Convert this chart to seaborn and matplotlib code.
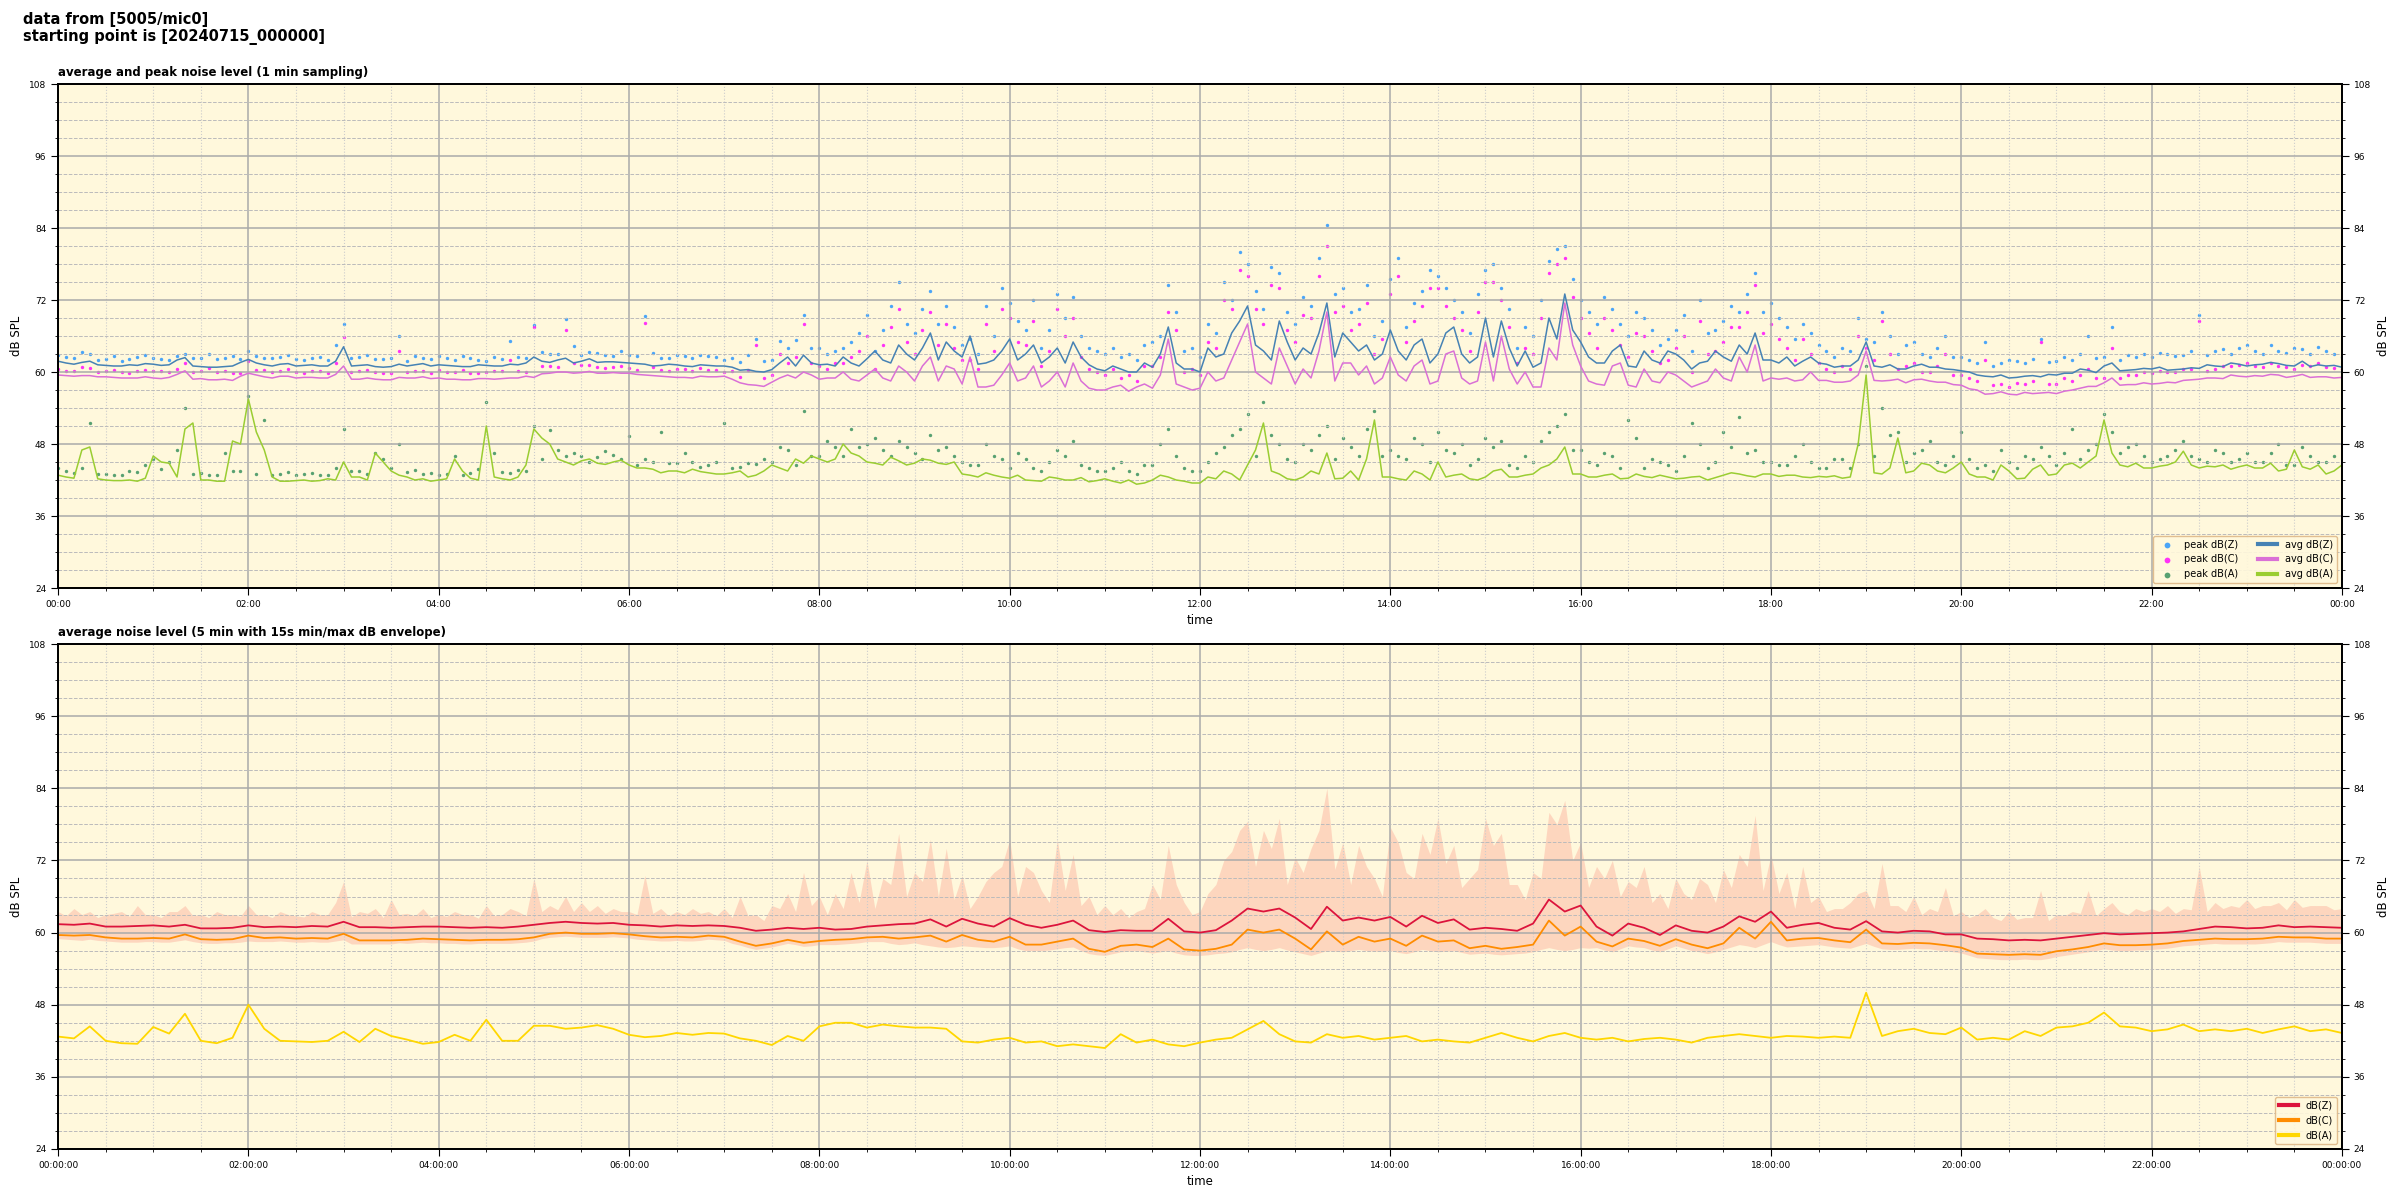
import matplotlib
matplotlib.use('Agg')
import matplotlib.pyplot as plt
import matplotlib.dates as mdates
from matplotlib.ticker import MultipleLocator
import pandas as pd
import seaborn as sns

# time axes: readings on the 10 min marks, plus the in-between 5 min marks
times = pd.date_range('2024-07-15 00:00', '2024-07-16 00:00', freq='10min')
times5 = pd.date_range('2024-07-15 00:00', '2024-07-16 00:00', freq='5min')

# --- top panel: 1 min averages and peaks, read at :00, :10, :20 ... ---
avg_z = [
    61.8, 61.3, 61.8, 61.1, 61.0, 61.1,
    61.3, 61.2, 62.4, 60.9, 60.8, 61.0,
    62.1, 61.2, 61.3, 61.0, 61.2, 61.0,
    64.2, 61.1, 60.9, 60.9, 61.0, 61.4,
    61.2, 61.0, 60.9, 61.1, 61.0, 61.2,
    62.5, 61.6, 62.3, 61.8, 61.6, 61.7,
    61.5, 61.3, 61.1, 61.2, 60.9, 61.1,
    61.0, 60.3, 60.1, 60.4, 62.5, 62.8,
    61.2, 61.0, 61.5, 62.2, 62.0, 64.5,
    62.0, 66.5, 65.0, 62.5, 61.3, 62.0,
    65.5, 63.0, 61.5, 64.0, 65.0, 61.2,
    60.2, 60.5, 60.0, 60.8, 67.5, 60.5,
    60.0, 62.5, 66.5, 71.0, 63.5, 68.5,
    62.0, 63.0, 71.5, 66.5, 63.5, 62.0,
    67.0, 62.0, 65.5, 63.0, 67.5, 61.5,
    69.0, 68.5, 61.0, 60.8, 69.0, 73.0,
    65.0, 61.5, 63.5, 61.0, 63.5, 61.5,
    63.0, 60.5, 61.8, 62.5, 64.5, 66.5,
    62.0, 62.5, 61.8, 61.5, 60.8, 61.0,
    65.0, 60.8, 60.5, 61.0, 60.8, 60.5,
    60.2, 59.5, 59.2, 59.0, 59.3, 59.2,
    59.5, 59.8, 60.3, 61.0, 60.2, 60.4,
    60.5, 60.3, 60.5, 60.6, 61.0, 61.5,
    61.0, 61.3, 61.4, 61.0, 60.9, 61.0,
    60.8,
]
avg_c = [
    59.5, 59.3, 59.4, 59.2, 59.0, 59.0,
    59.0, 59.1, 60.2, 58.9, 58.7, 58.6,
    59.8, 59.2, 59.3, 59.0, 59.1, 59.0,
    61.0, 58.8, 58.8, 58.7, 59.0, 59.2,
    59.0, 58.8, 58.7, 58.9, 58.9, 59.0,
    59.1, 59.8, 60.0, 59.9, 59.8, 59.9,
    59.8, 59.5, 59.3, 59.1, 59.0, 59.2,
    59.3, 58.2, 57.8, 58.3, 59.5, 60.0,
    58.8, 59.0, 58.8, 59.5, 59.0, 61.0,
    58.5, 62.5, 61.0, 58.0, 57.5, 57.8,
    61.5, 59.0, 57.5, 60.0, 61.5, 57.3,
    57.0, 57.8, 57.5, 57.3, 65.5, 57.5,
    57.3, 58.5, 62.0, 68.0, 59.0, 64.0,
    58.0, 59.0, 70.0, 61.5, 59.5, 58.0,
    62.5, 58.5, 62.0, 58.5, 63.5, 58.0,
    65.0, 66.0, 58.0, 57.5, 64.0, 71.5,
    61.0, 58.0, 61.0, 57.8, 60.5, 58.2,
    59.5, 57.5, 58.5, 59.0, 62.5, 64.5,
    59.0, 59.0, 58.7, 58.6, 58.3, 58.5,
    63.5, 58.5, 58.8, 58.7, 58.5, 58.3,
    57.8, 57.0, 56.4, 56.3, 56.6, 56.5,
    56.4, 57.0, 57.6, 58.2, 57.8, 57.9,
    58.0, 58.3, 58.6, 58.8, 59.0, 59.5,
    59.2, 59.3, 59.5, 59.3, 59.1, 59.2,
    59.1,
]
avg_a = [
    42.8, 42.3, 47.5, 42.0, 41.9, 41.8,
    46.0, 44.8, 50.5, 42.0, 41.8, 48.5,
    55.5, 47.0, 41.8, 41.9, 41.8, 42.2,
    45.0, 42.5, 46.5, 43.5, 42.5, 42.2,
    42.0, 45.5, 42.3, 51.0, 42.2, 42.5,
    50.5, 48.0, 45.0, 45.2, 44.8, 45.0,
    44.5, 44.0, 43.2, 43.5, 43.8, 43.2,
    43.0, 43.5, 42.8, 44.5, 43.5, 44.8,
    45.5, 45.5, 46.5, 45.0, 44.5, 45.2,
    44.8, 45.3, 44.6, 43.0, 42.5, 42.8,
    42.3, 42.0, 41.8, 42.3, 42.0, 41.7,
    42.2, 41.5, 41.3, 42.0, 42.5, 41.8,
    41.5, 42.2, 43.0, 44.5, 51.5, 43.0,
    42.0, 43.5, 46.5, 42.3, 42.0, 52.0,
    42.5, 42.0, 43.0, 45.0, 42.8, 42.2,
    42.5, 43.8, 42.5, 43.0, 44.5, 47.5,
    43.0, 42.5, 43.0, 42.3, 42.6, 42.8,
    42.2, 42.5, 42.0, 42.8, 43.0, 42.5,
    43.0, 42.8, 42.5, 42.6, 42.7, 42.5,
    59.5, 43.0, 49.0, 43.5, 44.5, 43.2,
    45.0, 42.5, 42.0, 43.5, 42.3, 44.5,
    43.0, 44.8, 45.0, 52.0, 44.5, 44.8,
    44.0, 44.5, 46.8, 44.0, 44.2, 43.8,
    44.5, 44.0, 43.5, 47.0, 43.8, 43.0,
    44.5,
]
peak_z = [
    62.8, 62.3, 63.0, 62.2, 61.8, 62.5,
    62.4, 62.0, 63.0, 62.3, 62.1, 62.6,
    63.5, 62.4, 62.5, 62.1, 62.3, 62.0,
    68.0, 62.5, 62.2, 62.4, 61.9, 62.3,
    62.6, 62.0, 62.4, 61.8, 62.2, 62.5,
    67.8, 63.0, 68.8, 62.8, 63.2, 62.6,
    62.9, 69.3, 62.4, 62.8, 62.3, 62.6,
    62.0, 61.7, 65.5, 62.0, 64.0, 69.5,
    64.0, 63.5, 65.0, 69.5, 67.0, 75.0,
    66.5, 73.5, 71.0, 64.5, 63.0, 66.0,
    71.5, 67.0, 64.0, 73.0, 72.5, 64.0,
    63.0, 62.5, 62.0, 65.0, 74.5, 63.5,
    62.5, 66.5, 72.0, 78.0, 70.5, 76.5,
    68.0, 71.0, 84.5, 74.0, 70.5, 66.0,
    75.5, 67.5, 73.5, 76.0, 72.0, 66.5,
    77.0, 74.0, 64.0, 66.0, 78.5, 81.0,
    72.0, 68.0, 70.5, 66.0, 69.0, 64.5,
    67.0, 63.5, 66.5, 68.5, 70.0, 76.5,
    71.5, 67.5, 68.0, 64.5, 62.5, 63.5,
    65.5, 70.0, 63.0, 65.0, 62.5, 66.0,
    62.5, 61.5, 61.0, 62.0, 61.5, 65.5,
    61.8, 62.0, 66.0, 62.5, 62.0, 62.5,
    62.5, 63.0, 62.8, 69.5, 63.5, 63.0,
    64.5, 63.0, 63.5, 64.0, 63.0, 63.5,
    62.5,
]
peak_c = [
    60.5, 60.2, 60.6, 60.1, 60.0, 60.1,
    60.2, 60.0, 61.5, 60.2, 60.0, 59.9,
    61.8, 60.3, 60.2, 60.0, 60.1, 59.9,
    65.8, 60.2, 60.0, 59.8, 60.0, 60.1,
    60.3, 60.0, 59.9, 60.0, 60.1, 60.2,
    67.5, 61.0, 67.0, 61.2, 60.9, 60.8,
    60.7, 68.2, 60.3, 60.5, 60.2, 60.4,
    60.0, 59.2, 64.5, 59.5, 61.5, 68.0,
    61.0, 61.5, 62.5, 66.0, 64.5, 70.5,
    63.0, 70.0, 68.0, 62.0, 60.5, 63.5,
    69.0, 64.5, 61.0, 70.5, 69.0, 60.5,
    59.5, 59.0, 58.5, 61.0, 70.0, 60.0,
    59.5, 64.0, 70.5, 76.0, 68.0, 74.0,
    65.0, 69.0, 81.0, 71.0, 68.0, 63.0,
    73.0, 65.0, 71.0, 74.0, 69.0, 63.5,
    75.0, 72.0, 61.5, 63.0, 76.5, 79.0,
    69.0, 64.0, 67.0, 62.5, 66.0, 61.5,
    64.0, 60.0, 63.0, 65.0, 67.5, 74.5,
    68.0, 64.0, 65.5, 61.5, 60.0, 60.5,
    64.0, 68.5, 60.5, 61.5, 60.0, 63.0,
    59.5, 58.5, 57.8, 57.5, 58.0, 65.0,
    58.0, 58.5, 60.5, 59.0, 59.0, 59.5,
    59.8, 60.0, 60.5, 68.5, 60.5, 61.0,
    61.5, 60.8, 61.0, 60.5, 61.0, 60.8,
    60.5,
]
peak_a = [
    44.0, 43.2, 51.5, 43.0, 42.8, 43.3,
    45.5, 45.0, 54.0, 43.2, 42.9, 43.5,
    56.0, 52.0, 43.0, 42.8, 43.1, 42.9,
    50.5, 43.5, 46.5, 44.0, 43.3, 43.0,
    42.9, 46.0, 43.2, 55.0, 43.4, 43.6,
    51.0, 50.3, 46.0, 46.0, 45.8, 46.2,
    49.3, 45.5, 50.0, 44.8, 45.0, 44.5,
    51.5, 44.2, 44.6, 45.0, 47.0, 53.5,
    46.0, 47.5, 50.5, 48.0, 47.0, 48.5,
    46.5, 49.5, 47.5, 45.0, 44.5, 46.0,
    44.0, 45.5, 43.5, 47.0, 48.5, 44.0,
    43.5, 45.0, 43.0, 44.5, 50.5, 44.0,
    43.5, 46.5, 49.5, 53.0, 55.0, 48.0,
    45.0, 47.0, 51.0, 49.0, 46.0, 53.5,
    47.0, 45.5, 48.0, 50.0, 46.5, 44.5,
    49.0, 48.5, 44.0, 45.0, 50.0, 53.0,
    47.0, 44.5, 46.0, 52.0, 44.0, 45.0,
    43.5, 51.5, 44.0, 50.0, 52.5, 47.0,
    45.0, 44.5, 48.0, 44.0, 45.5, 44.0,
    61.0, 54.0, 50.0, 46.5, 48.5, 44.5,
    50.0, 44.0, 43.5, 45.0, 46.0, 47.5,
    44.5, 50.5, 47.0, 53.0, 46.5, 48.0,
    45.0, 46.0, 48.5, 45.5, 47.0, 45.0,
    46.5, 45.0, 48.0, 44.5, 46.0, 45.0,
    44.5,
]

# --- same top series read at :05, :15, :25 ... (one row per hour) ---
avg_z_mid = [
    61.5, 61.6, 61.2, 61.0, 61.2, 61.4,
    61.1, 62.0, 61.0, 60.8, 60.9, 61.6,
    61.5, 61.0, 61.4, 61.1, 61.0, 61.8,
    61.0, 61.2, 60.8, 61.3, 61.2, 61.0,
    61.1, 60.9, 61.2, 61.0, 61.3, 61.5,
    61.8, 62.0, 61.5, 62.2, 61.7, 61.6,
    61.4, 61.0, 61.3, 61.0, 61.2, 61.0,
    60.8, 60.4, 60.0, 61.5, 61.0, 61.5,
    61.3, 62.5, 61.0, 63.5, 61.5, 63.0,
    64.0, 62.0, 63.5, 66.0, 61.5, 63.5,
    62.0, 64.5, 62.5, 61.5, 62.5, 60.5,
    61.0, 60.0, 61.5, 63.0, 61.5, 60.5,
    64.0, 63.0, 68.5, 64.5, 62.0, 65.0,
    64.0, 66.5, 62.5, 65.0, 64.5, 63.0,
    63.5, 64.5, 61.5, 66.5, 63.0, 62.5,
    62.5, 64.0, 63.5, 61.5, 65.5, 67.0,
    62.5, 61.5, 64.5, 60.8, 62.0, 63.5,
    62.0, 61.5, 63.5, 61.8, 63.0, 62.0,
    61.5, 61.0, 62.5, 61.3, 61.0, 62.0,
    61.0, 61.2, 60.5, 61.3, 60.8, 60.4,
    60.0, 59.3, 59.5, 59.1, 59.4, 59.6,
    59.8, 60.5, 59.9, 61.5, 60.3, 60.6,
    60.8, 60.4, 60.7, 61.2, 60.9, 61.3,
    61.2, 61.6, 61.1, 61.8, 61.2, 61.1,
]
avg_c_mid = [
    59.4, 59.4, 59.2, 59.1, 59.0, 59.2,
    58.9, 59.6, 58.8, 58.7, 58.8, 59.3,
    59.5, 59.0, 59.3, 59.1, 59.0, 59.6,
    58.8, 59.0, 58.7, 59.1, 59.0, 58.9,
    58.8, 58.7, 58.9, 58.8, 59.0, 59.3,
    59.7, 60.0, 59.8, 60.1, 59.8, 59.8,
    59.6, 59.4, 59.2, 59.1, 59.3, 59.2,
    58.8, 57.9, 57.6, 59.0, 59.0, 59.5,
    59.0, 60.0, 58.5, 60.5, 58.5, 60.0,
    61.0, 58.5, 60.5, 62.5, 57.5, 59.5,
    58.5, 61.0, 58.5, 57.5, 58.5, 57.0,
    57.5, 56.8, 58.0, 59.5, 58.0, 57.0,
    60.0, 59.0, 65.0, 60.0, 58.0, 61.0,
    60.5, 63.5, 58.5, 61.5, 61.0, 59.0,
    59.5, 61.0, 58.0, 63.0, 59.0, 58.5,
    58.5, 60.5, 60.0, 57.5, 62.0, 64.5,
    58.5, 57.8, 61.5, 57.5, 58.5, 60.0,
    58.5, 58.0, 60.5, 58.5, 60.0, 58.5,
    58.8, 58.5, 60.0, 58.6, 58.3, 59.5,
    58.6, 58.6, 58.2, 58.8, 58.3, 57.9,
    57.2, 56.3, 56.7, 56.2, 56.4, 56.6,
    56.8, 57.3, 57.6, 59.0, 57.9, 58.2,
    58.1, 58.2, 58.7, 59.0, 58.9, 59.3,
    59.4, 59.6, 59.1, 59.6, 59.2, 59.0,
]
avg_a_mid = [
    42.5, 47.0, 42.2, 41.9, 42.0, 42.3,
    45.0, 42.5, 51.5, 42.0, 41.8, 48.0,
    50.0, 42.5, 41.8, 42.0, 41.9, 42.0,
    42.5, 42.0, 45.0, 42.8, 42.0, 41.8,
    42.2, 43.5, 42.0, 42.5, 42.0, 44.5,
    49.0, 45.5, 44.5, 45.5, 44.6, 45.3,
    44.0, 43.8, 43.5, 43.2, 43.4, 43.0,
    43.2, 42.5, 43.5, 44.0, 45.5, 46.0,
    45.0, 48.0, 46.0, 44.8, 45.8, 44.5,
    45.5, 44.8, 45.0, 42.8, 43.2, 42.5,
    42.8, 41.9, 42.5, 42.0, 42.4, 41.9,
    41.8, 42.0, 41.5, 42.8, 42.0, 41.5,
    42.5, 43.5, 42.0, 47.0, 43.5, 42.2,
    42.5, 43.0, 42.2, 43.5, 45.5, 42.5,
    42.2, 43.5, 42.0, 42.5, 43.0, 42.0,
    43.5, 42.5, 42.8, 44.0, 45.5, 43.0,
    42.5, 42.8, 42.2, 43.0, 42.4, 42.5,
    42.3, 42.6, 42.4, 43.2, 42.7, 43.0,
    42.6, 42.8, 42.4, 42.5, 42.3, 48.0,
    43.2, 44.0, 43.2, 44.8, 43.5, 44.0,
    43.0, 42.5, 44.5, 42.2, 43.8, 42.8,
    44.5, 44.0, 46.0, 46.5, 44.2, 44.0,
    44.3, 45.0, 44.5, 44.3, 44.5, 44.2,
    44.0, 44.8, 43.8, 44.2, 44.5, 43.5,
]
peak_z_mid = [
    62.5, 63.4, 62.0, 62.6, 62.2, 62.9,
    62.1, 62.7, 62.3, 63.0, 62.4, 62.2,
    62.6, 62.3, 62.8, 62.0, 62.5, 64.5,
    62.4, 62.9, 62.2, 66.0, 62.6, 62.1,
    62.3, 62.7, 62.0, 62.5, 65.2, 62.4,
    63.3, 63.0, 64.3, 63.4, 62.9, 63.5,
    62.6, 63.2, 62.4, 62.7, 62.9, 62.5,
    62.4, 62.8, 61.9, 65.1, 65.4, 64.0,
    63.0, 64.0, 66.5, 63.5, 71.0, 68.0,
    70.5, 68.0, 67.5, 65.5, 71.0, 74.0,
    68.5, 72.0, 67.0, 69.0, 66.0, 63.5,
    64.0, 63.0, 64.5, 66.0, 70.0, 64.0,
    68.0, 75.0, 80.0, 73.5, 77.5, 70.0,
    72.5, 79.0, 73.0, 70.0, 74.5, 68.5,
    79.0, 71.5, 77.0, 74.0, 70.0, 73.0,
    78.0, 70.5, 67.5, 72.0, 80.5, 75.5,
    70.0, 72.5, 68.0, 70.0, 67.0, 65.5,
    69.5, 72.0, 67.0, 71.0, 73.0, 70.0,
    69.0, 65.5, 66.5, 63.5, 64.0, 69.0,
    65.0, 66.0, 64.5, 63.0, 64.0, 62.5,
    62.0, 65.0, 61.5, 61.8, 62.2, 61.6,
    62.5, 63.0, 62.4, 67.5, 62.8, 63.0,
    63.2, 62.7, 63.5, 62.9, 63.8, 64.0,
    63.5, 64.5, 63.2, 63.8, 64.2, 63.0,
]
peak_c_mid = [
    60.2, 60.8, 60.0, 60.3, 59.9, 60.4,
    60.1, 60.5, 60.0, 60.6, 60.2, 59.8,
    60.3, 60.0, 60.5, 59.8, 60.2, 61.5,
    60.0, 60.4, 59.9, 63.5, 60.2, 59.8,
    60.0, 60.3, 59.8, 60.1, 62.0, 60.0,
    61.0, 60.8, 61.5, 61.2, 60.6, 61.0,
    60.4, 60.8, 60.2, 60.5, 60.6, 60.3,
    60.1, 60.4, 59.0, 63.0, 62.5, 61.5,
    60.5, 61.5, 63.5, 60.5, 67.5, 65.0,
    67.0, 64.5, 64.0, 62.0, 68.0, 70.5,
    65.0, 68.5, 63.5, 66.0, 62.5, 60.0,
    60.5, 59.5, 61.0, 62.5, 67.0, 60.5,
    65.0, 72.0, 77.0, 70.5, 74.5, 67.0,
    69.5, 76.0, 70.0, 67.0, 71.5, 65.5,
    76.0, 68.5, 74.0, 71.0, 67.0, 70.0,
    75.0, 67.5, 64.0, 69.0, 78.0, 72.5,
    66.5, 69.0, 64.5, 66.5, 63.5, 62.0,
    66.0, 68.5, 63.5, 67.5, 70.0, 66.5,
    65.5, 62.0, 63.0, 60.5, 61.0, 66.0,
    62.0, 63.0, 61.0, 60.0, 61.0, 59.5,
    59.0, 62.0, 58.0, 58.2, 58.5, 58.0,
    59.0, 59.5, 59.0, 64.0, 59.5, 60.0,
    60.2, 60.0, 60.5, 60.2, 61.0, 61.2,
    61.0, 61.5, 60.8, 61.2, 61.5, 60.6,
]
peak_a_mid = [
    43.5, 44.0, 43.0, 42.8, 43.5, 44.5,
    43.8, 47.0, 43.0, 42.8, 46.5, 43.5,
    43.0, 42.9, 43.4, 43.0, 42.8, 44.0,
    43.5, 43.0, 45.5, 48.0, 43.6, 43.2,
    43.0, 42.9, 43.8, 46.5, 43.2, 43.5,
    45.5, 47.0, 46.5, 45.0, 46.8, 45.5,
    44.5, 45.0, 44.8, 46.5, 44.2, 45.0,
    44.0, 44.8, 45.5, 47.5, 44.5, 46.0,
    48.5, 46.0, 47.5, 49.0, 46.0, 47.5,
    45.5, 47.0, 46.0, 44.5, 48.0, 45.5,
    46.5, 44.0, 45.0, 46.0, 44.5, 43.5,
    44.0, 43.5, 44.5, 48.0, 46.0, 43.5,
    45.0, 47.5, 50.5, 46.0, 49.5, 45.5,
    48.0, 49.5, 45.5, 47.5, 50.5, 46.0,
    46.0, 49.0, 45.0, 47.0, 48.0, 45.5,
    47.5, 44.5, 46.0, 48.5, 51.0, 47.0,
    45.0, 46.5, 44.0, 49.0, 45.5, 44.5,
    46.0, 48.0, 45.0, 47.5, 46.5, 45.0,
    44.5, 46.0, 45.0, 44.0, 45.5, 48.0,
    46.0, 49.5, 45.0, 47.0, 45.0, 46.0,
    45.5, 44.5, 47.0, 44.0, 45.5, 46.0,
    46.5, 45.5, 48.0, 50.0, 47.5, 46.0,
    45.5, 47.0, 46.0, 45.0, 46.5, 45.5,
    45.0, 46.5, 44.5, 47.5, 45.0, 46.0,
]

# --- bottom panel: 5 min averages, read at :00, :10, :20 ... ---
avg5_z = [
    61.4, 61.3, 61.5, 61.0, 61.0, 61.1,
    61.2, 61.0, 61.3, 60.7, 60.7, 60.8,
    61.2, 60.9, 61.0, 60.9, 61.1, 61.0,
    61.8, 60.9, 60.9, 60.8, 60.9, 61.0,
    61.0, 60.9, 60.8, 60.9, 60.8, 61.0,
    61.3, 61.6, 61.8, 61.6, 61.5, 61.6,
    61.3, 61.2, 61.0, 61.2, 61.1, 61.2,
    61.1, 60.8, 60.3, 60.5, 60.8, 60.6,
    60.8, 60.5, 60.6, 61.0, 61.2, 61.4,
    61.5, 62.2, 61.0, 62.3, 61.5, 61.0,
    62.4, 61.3, 60.8, 61.3, 62.0, 60.4,
    60.1, 60.4, 60.3, 60.3, 62.3, 60.2,
    60.0, 60.4, 62.0, 64.0, 63.5, 64.0,
    62.5, 60.6, 64.3, 62.0, 62.5, 62.0,
    62.6, 61.0, 62.8, 61.6, 62.2, 60.5,
    60.8, 60.6, 60.3, 61.5, 65.5, 63.5,
    64.5, 61.0, 59.5, 61.5, 60.8, 59.6,
    61.2, 60.3, 60.0, 61.0, 62.7, 61.8,
    63.5, 60.8, 61.3, 61.6, 60.8, 60.5,
    61.9, 60.2, 60.0, 60.3, 60.2, 59.7,
    59.7, 59.0, 58.9, 58.7, 58.8, 58.7,
    59.0, 59.3, 59.6, 59.9, 59.7, 59.8,
    59.9, 60.0, 60.2, 60.6, 61.0, 60.9,
    60.7, 60.8, 61.2, 60.9, 61.0, 60.9,
    60.8,
]
avg5_c = [
    59.6, 59.5, 59.6, 59.2, 59.0, 59.0,
    59.1, 59.0, 59.7, 58.9, 58.8, 58.9,
    59.5, 59.1, 59.2, 59.0, 59.1, 59.0,
    59.8, 58.7, 58.7, 58.7, 58.8, 59.0,
    58.9, 58.8, 58.7, 58.8, 58.8, 58.9,
    59.2, 59.8, 60.0, 59.8, 59.8, 59.9,
    59.7, 59.4, 59.2, 59.3, 59.2, 59.5,
    59.3, 58.5, 57.8, 58.2, 58.8, 58.3,
    58.6, 58.8, 58.9, 59.2, 59.3, 59.0,
    59.2, 59.5, 58.5, 59.6, 58.8, 58.5,
    59.3, 58.0, 58.0, 58.5, 59.0, 57.3,
    56.8, 57.8, 58.0, 57.6, 59.0, 57.2,
    57.0, 57.3, 58.0, 60.5, 60.0, 60.5,
    59.0, 57.2, 60.2, 58.0, 59.3, 58.5,
    59.0, 57.8, 59.5, 58.5, 58.7, 57.4,
    57.8, 57.3, 57.6, 58.0, 62.0, 59.5,
    61.0, 58.5, 57.7, 59.0, 58.6, 57.8,
    58.9, 58.0, 57.4, 58.2, 60.8, 59.0,
    61.8, 58.7, 59.0, 59.1, 58.7, 58.4,
    60.5, 58.2, 58.1, 58.3, 58.2, 57.9,
    57.5, 56.5, 56.4, 56.3, 56.4, 56.3,
    56.9, 57.2, 57.6, 58.2, 57.9, 57.9,
    58.0, 58.2, 58.6, 58.8, 59.0, 58.9,
    58.9, 59.0, 59.3, 59.2, 59.2, 59.0,
    59.0,
]
avg5_a = [
    42.7, 42.4, 44.4, 42.0, 41.6, 41.5,
    44.3, 43.2, 46.5, 42.0, 41.6, 42.5,
    48.0, 44.0, 42.0, 41.9, 41.8, 42.0,
    43.5, 41.8, 44.0, 42.8, 42.2, 41.5,
    41.8, 43.0, 42.0, 45.5, 42.0, 42.0,
    44.5, 44.5, 44.0, 44.2, 44.6, 44.0,
    43.0, 42.6, 42.8, 43.3, 43.0, 43.3,
    43.2, 42.4, 42.0, 41.3, 42.8, 42.0,
    44.4, 45.0, 45.0, 44.2, 44.7, 44.4,
    44.2, 44.2, 44.0, 41.9, 41.7, 42.2,
    42.5, 41.7, 41.9, 41.1, 41.4, 41.1,
    40.8, 43.1, 41.7, 42.2, 41.4, 41.1,
    41.7, 42.2, 42.5, 43.9, 45.3, 43.1,
    41.9, 41.7, 43.1, 42.5, 42.8, 42.2,
    42.5, 42.8, 41.9, 42.2, 41.9, 41.7,
    42.5, 43.3, 42.5, 41.9, 42.8, 43.3,
    42.5, 42.2, 42.5, 41.9, 42.3, 42.5,
    42.2, 41.7, 42.5, 42.8, 43.1, 42.8,
    42.5, 42.8, 42.7, 42.5, 42.7, 42.5,
    50.0, 42.8, 43.6, 44.0, 43.3, 43.1,
    44.2, 42.2, 42.5, 42.2, 43.6, 42.8,
    44.2, 44.4, 45.0, 46.7, 44.4, 44.2,
    43.6, 43.9, 44.7, 43.6, 43.9, 43.6,
    44.0, 43.3, 43.9, 44.4, 43.6, 43.9,
    43.3,
]
# 15 s min/max envelope at :00, :10, :20 ...
env_hi = [
    63.5, 64.0, 63.5, 63.0, 63.5, 64.5,
    63.0, 63.5, 64.5, 63.0, 63.5, 63.0,
    64.5, 63.0, 63.5, 62.8, 63.5, 63.0,
    68.5, 63.5, 64.0, 65.5, 63.2, 64.0,
    63.0, 63.5, 63.0, 64.5, 63.0, 63.5,
    69.0, 64.5, 66.0, 65.0, 64.5, 64.0,
    63.5, 69.5, 64.0, 63.5, 64.0, 63.5,
    64.0, 66.0, 63.0, 64.5, 66.5, 70.0,
    66.0, 66.5, 70.0, 72.0, 69.0, 76.5,
    70.0, 75.5, 74.0, 69.5, 66.0, 70.0,
    75.5, 71.0, 67.0, 75.5, 73.0, 66.0,
    64.5, 64.0, 63.5, 68.0, 74.5, 65.0,
    63.5, 68.0, 73.5, 78.5, 77.0, 79.0,
    72.5, 74.0, 84.0, 75.0, 74.5, 69.0,
    77.5, 70.0, 76.5, 79.0, 74.5, 69.0,
    79.0, 76.5, 68.0, 70.0, 80.0, 82.0,
    75.0, 71.0, 72.0, 68.5, 71.0, 66.5,
    69.0, 65.5, 68.0, 70.5, 73.0, 79.5,
    73.0, 70.0, 71.0, 66.0, 64.0, 65.0,
    67.0, 71.5, 64.5, 66.0, 64.0, 67.5,
    63.5, 63.0, 62.5, 63.5, 62.5, 67.0,
    63.0, 63.5, 67.0, 64.0, 63.5, 64.0,
    64.0, 64.5, 64.0, 71.0, 65.0, 64.5,
    65.5, 64.5, 65.0, 65.5, 64.5, 64.5,
    64.0,
]
env_lo = [
    59.0, 58.8, 58.9, 58.6, 58.4, 58.4,
    58.5, 58.4, 58.8, 58.3, 58.2, 58.3,
    58.6, 58.5, 58.6, 58.4, 58.5, 58.4,
    58.8, 58.1, 58.1, 58.1, 58.2, 58.4,
    58.3, 58.2, 58.1, 58.2, 58.2, 58.3,
    58.6, 59.2, 59.4, 59.2, 59.2, 59.3,
    59.1, 58.8, 58.6, 58.7, 58.6, 58.9,
    58.7, 57.9, 57.2, 57.6, 58.2, 57.7,
    58.0, 58.0, 58.2, 58.5, 58.5, 58.0,
    58.3, 57.8, 57.5, 57.8, 57.6, 57.5,
    57.8, 57.0, 57.0, 57.3, 57.6, 56.5,
    56.2, 56.8, 57.0, 56.6, 57.0, 56.3,
    56.2, 56.5, 56.8, 57.5, 57.0, 57.5,
    56.8, 56.2, 57.0, 56.8, 57.2, 56.9,
    57.0, 56.5, 57.2, 56.8, 57.0, 56.4,
    56.6, 56.3, 56.5, 56.8, 57.5, 57.0,
    57.5, 57.5, 56.8, 57.8, 57.5, 56.8,
    57.8, 57.0, 56.5, 57.2, 58.0, 57.5,
    58.5, 57.6, 57.8, 58.0, 57.6, 57.4,
    58.2, 57.3, 57.2, 57.4, 57.3, 57.0,
    56.6, 55.8, 55.6, 55.5, 55.6, 55.5,
    56.0, 56.4, 56.8, 57.3, 57.0, 57.1,
    57.2, 57.4, 57.8, 58.0, 58.2, 58.1,
    58.1, 58.2, 58.5, 58.4, 58.4, 58.2,
    58.2,
]
# envelope at :05, :15, :25 ... (one row per hour)
env_hi_mid = [
    62.8, 63.0, 62.5, 63.2, 62.7, 63.0,
    62.5, 63.5, 62.8, 62.5, 63.0, 62.7,
    63.0, 62.5, 63.0, 62.6, 63.0, 65.0,
    62.6, 63.2, 62.5, 63.0, 62.8, 62.5,
    62.7, 63.0, 62.4, 62.8, 64.0, 62.8,
    63.5, 63.8, 63.5, 63.5, 63.2, 63.5,
    63.0, 63.2, 62.8, 63.0, 63.2, 62.8,
    62.5, 62.8, 62.0, 64.0, 63.5, 64.5,
    63.0, 64.0, 65.0, 64.0, 68.0, 66.0,
    68.5, 66.0, 65.5, 64.0, 68.5, 71.0,
    66.0, 70.0, 65.0, 67.0, 64.5, 63.0,
    63.0, 62.5, 64.0, 65.5, 68.0, 63.0,
    66.5, 72.0, 77.0, 71.0, 74.0, 68.0,
    70.0, 77.0, 70.5, 68.0, 71.0, 66.0,
    75.0, 69.0, 73.0, 71.5, 67.5, 70.5,
    74.5, 68.0, 65.5, 69.0, 78.0, 72.0,
    67.5, 69.0, 66.0, 67.5, 65.0, 64.0,
    66.5, 69.0, 65.0, 67.5, 71.0, 67.0,
    66.5, 64.0, 65.0, 63.5, 64.0, 66.5,
    64.0, 64.5, 63.5, 63.0, 63.5, 62.8,
    62.5, 64.0, 62.0, 62.2, 62.5, 62.0,
    62.8, 63.2, 62.8, 65.0, 63.0, 63.5,
    63.5, 63.2, 63.8, 63.5, 64.0, 64.2,
    64.0, 64.5, 63.8, 64.2, 64.5, 63.8,
]
env_lo_mid = [
    58.9, 58.7, 58.7, 58.5, 58.4, 58.5,
    58.4, 58.6, 58.5, 58.2, 58.3, 58.4,
    58.5, 58.5, 58.5, 58.4, 58.4, 58.6,
    58.1, 58.1, 58.1, 58.3, 58.3, 58.3,
    58.2, 58.1, 58.2, 58.2, 58.2, 58.4,
    59.0, 59.3, 59.3, 59.2, 59.2, 59.2,
    58.9, 58.7, 58.6, 58.6, 58.7, 58.8,
    58.2, 57.5, 57.4, 57.9, 58.0, 57.8,
    58.0, 58.1, 58.3, 58.5, 58.2, 58.1,
    58.0, 57.6, 57.6, 57.7, 57.5, 57.6,
    57.3, 57.0, 57.1, 57.5, 57.0, 56.3,
    56.5, 56.9, 56.8, 56.8, 56.6, 56.2,
    56.3, 56.6, 57.2, 57.2, 57.2, 57.1,
    56.5, 56.6, 56.9, 57.0, 57.0, 56.9,
    56.7, 56.8, 57.0, 56.9, 56.7, 56.5,
    56.4, 56.4, 56.6, 57.2, 57.2, 57.2,
    57.4, 57.1, 57.3, 57.6, 57.1, 57.3,
    57.4, 56.8, 56.8, 57.6, 57.8, 58.0,
    58.0, 57.7, 57.9, 57.8, 57.5, 57.8,
    57.7, 57.2, 57.3, 57.3, 57.1, 56.8,
    56.2, 55.7, 55.5, 55.5, 55.5, 55.7,
    56.2, 56.6, 57.0, 57.1, 57.0, 57.1,
    57.3, 57.6, 57.9, 58.1, 58.1, 58.1,
    58.1, 58.3, 58.4, 58.4, 58.3, 58.2,
]


# Put the :05 readings between the :00 / :10 readings
def interleave(on_marks, between):
    out = []
    for a, b in zip(on_marks, between):
        out += [a, b]
    out.append(on_marks[-1])
    return out


# Shared look of both panels (grid, ticks, right hand axis)
def style_axes(ax, title, time_fmt):
    ax.set_facecolor('cornsilk')
    ax.set_xlim(times[0], times[-1])
    ax.set_ylim(24, 108)
    ax.yaxis.set_major_locator(MultipleLocator(12))
    ax.yaxis.set_minor_locator(MultipleLocator(3))
    ax.xaxis.set_major_locator(mdates.HourLocator(byhour=range(0, 24, 2)))
    ax.xaxis.set_minor_locator(mdates.MinuteLocator(byminute=[0, 30]))
    ax.xaxis.set_major_formatter(mdates.DateFormatter(time_fmt))
    ax.grid(which='major', color='#aaaaaa', linewidth=1.1)
    ax.grid(which='minor', axis='y', color='#bbbbbb', linestyle='--', linewidth=0.7)
    ax.grid(which='minor', axis='x', color='#cccccc', linestyle=':', linewidth=0.8)
    ax.tick_params(which='both', labelsize=6.5)
    ax.tick_params(which='major', length=5)
    ax.tick_params(which='minor', length=2.5)
    for spine in ax.spines.values():
        spine.set_linewidth(1.3)
        spine.set_color('black')
    ax.set_xlabel('time', fontsize=8.5)
    ax.set_ylabel('dB SPL', fontsize=8.5)
    ax.set_title(title, loc='left', fontweight='bold', fontsize=8.5)

    right = ax.twinx()
    right.set_ylim(24, 108)
    right.yaxis.set_major_locator(MultipleLocator(12))
    right.yaxis.set_minor_locator(MultipleLocator(3))
    right.tick_params(which='both', labelsize=6.5)
    right.tick_params(which='major', length=5)
    right.tick_params(which='minor', length=2.5)
    right.set_ylabel('dB SPL', fontsize=8.5)
    for spine in right.spines.values():
        spine.set_linewidth(1.3)


def plot_top(ax):
    df = pd.DataFrame({'time': times5,
                       'avg_z': interleave(avg_z, avg_z_mid),
                       'avg_c': interleave(avg_c, avg_c_mid),
                       'avg_a': interleave(avg_a, avg_a_mid),
                       'peak_z': interleave(peak_z, peak_z_mid),
                       'peak_c': interleave(peak_c, peak_c_mid),
                       'peak_a': interleave(peak_a, peak_a_mid)})
    sns.scatterplot(data=df, x='time', y='peak_z', ax=ax, color='dodgerblue', s=6,
                    linewidth=0, alpha=0.8, label='peak dB(Z)')
    sns.scatterplot(data=df, x='time', y='peak_c', ax=ax, color='magenta', s=6,
                    linewidth=0, alpha=0.8, label='peak dB(C)')
    sns.scatterplot(data=df, x='time', y='peak_a', ax=ax, color='seagreen', s=6,
                    linewidth=0, alpha=0.8, label='peak dB(A)')
    sns.lineplot(data=df, x='time', y='avg_z', ax=ax, color='steelblue', lw=1.1, label='avg dB(Z)')
    sns.lineplot(data=df, x='time', y='avg_c', ax=ax, color='orchid', lw=1.1, label='avg dB(C)')
    sns.lineplot(data=df, x='time', y='avg_a', ax=ax, color='yellowgreen', lw=1.1, label='avg dB(A)')

    style_axes(ax, 'average and peak noise level (1 min sampling)', '%H:%M')
    leg = ax.legend(loc='lower right', ncol=2, fontsize=7, markerscale=1.7,
                    facecolor='cornsilk', edgecolor='burlywood', framealpha=0.9)
    for line in leg.get_lines():
        line.set_linewidth(3)


def plot_bottom(ax):
    env = pd.DataFrame({'time': times5,
                        'hi': interleave(env_hi, env_hi_mid),
                        'lo': interleave(env_lo, env_lo_mid)})
    df = pd.DataFrame({'time': times, 'z': avg5_z, 'c': avg5_c, 'a': avg5_a})
    ax.fill_between(env['time'], env['lo'], env['hi'], color='salmon', alpha=0.28, linewidth=0)
    sns.lineplot(data=df, x='time', y='z', ax=ax, color='crimson', lw=1.3, label='dB(Z)')
    sns.lineplot(data=df, x='time', y='c', ax=ax, color='darkorange', lw=1.3, label='dB(C)')
    sns.lineplot(data=df, x='time', y='a', ax=ax, color='gold', lw=1.3, label='dB(A)')

    style_axes(ax, 'average noise level (5 min with 15s min/max dB envelope)', '%H:%M:%S')
    leg = ax.legend(loc='lower right', fontsize=7, facecolor='cornsilk',
                    edgecolor='burlywood', framealpha=0.9)
    for line in leg.get_lines():
        line.set_linewidth(3)


def main():
    fig = plt.figure(figsize=(24, 12), dpi=100)
    ax_top = fig.add_axes([0.0242, 0.51, 0.9516, 0.42])
    ax_bot = fig.add_axes([0.0242, 0.0425, 0.9516, 0.4208])

    plot_top(ax_top)
    plot_bottom(ax_bot)

    fig.text(0.0095, 0.99, 'data from [5005/mic0]\nstarting point is [20240715_000000]',
             ha='left', va='top', fontsize=10.5, fontweight='bold')

    fig.savefig('out.png', dpi=100)


if __name__ == '__main__':
    main()
